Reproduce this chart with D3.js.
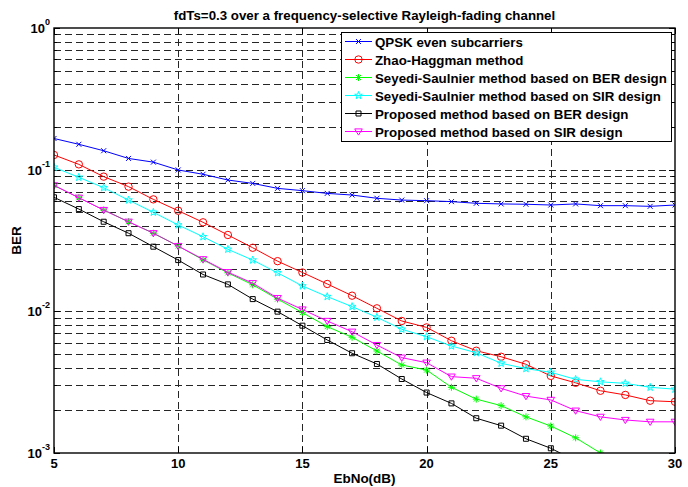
<!DOCTYPE html>
<html>
<head>
<meta charset="utf-8">
<script src="https://cdn.jsdelivr.net/npm/d3@7"></script>
<style>
  body { margin: 0; background: #fff; }
  text { font-family: "Liberation Sans", Arial, sans-serif; font-weight: bold; fill: #000; }
</style>
</head>
<body>
<div id="chart"></div>
<script>
// x values (dB)
const ebno = [5, 6, 7, 8, 9, 10, 11, 12, 13, 14, 15, 16, 17, 18, 19, 20, 21, 22, 23, 24, 25, 26, 27, 28, 29, 30];

// BER values
const qpskEven = [0.166, 0.151, 0.136, 0.120, 0.113, 0.0995, 0.0928, 0.0845, 0.080, 0.0738, 0.0711, 0.068, 0.0662,
    0.0628, 0.061, 0.0604, 0.0595, 0.0579, 0.0573, 0.057, 0.0563, 0.0573, 0.0557, 0.0557, 0.0551, 0.0563];
const zhaoHaggman = [0.127, 0.109, 0.0893, 0.0759, 0.0617, 0.0513, 0.0425, 0.0346, 0.0281, 0.0226, 0.0188, 0.0156, 0.0129,
    0.0105, 0.00855, 0.0077, 0.0062, 0.00527, 0.00478, 0.00423, 0.0035, 0.00313, 0.00275, 0.00257, 0.00234, 0.0023];
const seyediBer = [0.0775, 0.0634, 0.0519, 0.0429, 0.0356, 0.0289, 0.0231, 0.0187, 0.0154, 0.0122, 0.0098, 0.0078, 0.00656,
    0.00525, 0.00418, 0.00385, 0.00291, 0.0024, 0.00216, 0.0018, 0.00155, 0.00128, 0.001];
const seyediSir = [0.104, 0.0883, 0.0746, 0.061, 0.050, 0.0407, 0.0336, 0.0274, 0.0230, 0.0187, 0.0151, 0.0127, 0.0108,
    0.00908, 0.00747, 0.00662, 0.00569, 0.0051, 0.0043, 0.00394, 0.00371, 0.00331, 0.00318, 0.0031, 0.00291, 0.00282];
const proposedBer = [0.0638, 0.0527, 0.0429, 0.0356, 0.0286, 0.0230, 0.0182, 0.0155, 0.0122, 0.00995, 0.00792, 0.00628,
    0.00506, 0.00425, 0.00333, 0.00267, 0.00224, 0.00176, 0.00156, 0.00126, 0.00108, 0.00088];
const proposedSir = [0.0775, 0.0634, 0.0519, 0.0429, 0.0356, 0.0289, 0.0233, 0.0189, 0.0158, 0.0124, 0.0103, 0.00855,
    0.00718, 0.00578, 0.00471, 0.00434, 0.00346, 0.00337, 0.00286, 0.00252, 0.00237, 0.00199, 0.0018, 0.00171, 0.00166, 0.00166];

const seriesNames = ["QPSK even subcarriers", "Zhao-Haggman method", "Seyedi-Saulnier method based on BER design",
    "Seyedi-Saulnier method based on SIR design", "Proposed method based on BER design", "Proposed method based on SIR design"];
const seriesColors = ["#0000ff", "#ff0000", "#00ff00", "#00ffff", "#000000", "#ff00ff"];
const seriesMarkers = ["x", "circle", "asterisk", "star", "square", "triangle"];
const seriesValues = [qpskEven, zhaoHaggman, seyediBer, seyediSir, proposedBer, proposedSir];

const xTicks = [5, 10, 15, 20, 25, 30];
const yDecades = [-3, -2, -1, 0];

const titleText = "fdTs=0.3 over a frequency-selective Rayleigh-fading channel";
const xLabel = "EbNo(dB)";
const yLabel = "BER";

var W = 688, H = 487;
var margin = {top: 28, right: 13, bottom: 34, left: 54},
    width = W - margin.left - margin.right,
    height = H - margin.top - margin.bottom;

var svg = d3.select("#chart").append("svg")
    .attr("width", W)
    .attr("height", H);

var g = svg.append("g")
    .attr("transform", "translate(" + margin.left + "," + margin.top + ")");

var xScale = d3.scaleLinear().domain([5, 30]).range([0, width]);
var yScale = d3.scaleLog().domain([1e-3, 1]).range([height, 0]);

// grid values: every 1..9 within each decade
var minorVals = [];
yDecades.slice(0, -1).forEach(e => {
    for (var k = 1; k <= 9; k++) minorVals.push(k * Math.pow(10, e));
});
minorVals.push(1);

// horizontal dashed grid
g.append("g")
    .selectAll("line")
    .data(minorVals.filter(v => v > 1e-3 && v < 1))
    .join("line")
    .attr("x1", 0).attr("x2", width)
    .attr("y1", d => Math.round(yScale(d)) + 0.5)
    .attr("y2", d => Math.round(yScale(d)) + 0.5)
    .attr("stroke", "#262626")
    .attr("stroke-width", 1)
    .attr("stroke-dasharray", "7,4");

// vertical dashed grid
g.append("g")
    .selectAll("line")
    .data(xTicks.slice(1, -1))
    .join("line")
    .attr("x1", d => Math.round(xScale(d)) + 0.5)
    .attr("x2", d => Math.round(xScale(d)) + 0.5)
    .attr("y1", 0).attr("y2", height)
    .attr("stroke", "#262626")
    .attr("stroke-width", 1)
    .attr("stroke-dasharray", "7,4");

// inward ticks
var ticks = g.append("g").attr("stroke", "#000").attr("stroke-width", 1);
minorVals.forEach(v => {
    var y = Math.round(yScale(v)) + 0.5;
    var len = (Math.log10(v) % 1 === 0) ? 6 : 3;
    ticks.append("line").attr("x1", 0).attr("x2", len).attr("y1", y).attr("y2", y);
    ticks.append("line").attr("x1", width).attr("x2", width - len).attr("y1", y).attr("y2", y);
});
xTicks.forEach(v => {
    var x = Math.round(xScale(v)) + 0.5;
    ticks.append("line").attr("x1", x).attr("x2", x).attr("y1", height).attr("y2", height - 6);
    ticks.append("line").attr("x1", x).attr("x2", x).attr("y1", 0).attr("y2", 6);
});

// tick labels
g.append("g")
    .selectAll("text")
    .data(xTicks)
    .join("text")
    .attr("x", d => xScale(d))
    .attr("y", height + 15)
    .attr("text-anchor", "middle")
    .style("font-size", "13px")
    .text(d => d);

var yl = g.append("g")
    .selectAll("text")
    .data(yDecades)
    .join("text")
    .attr("x", -4)
    .attr("y", d => yScale(Math.pow(10, d)) + 5)
    .attr("text-anchor", "end");
yl.append("tspan").style("font-size", "13px").text("10");
yl.append("tspan").style("font-size", "9px").attr("dy", -8).text(d => d);

// curves
g.append("clipPath").attr("id", "plotclip")
    .append("rect").attr("x", 0).attr("y", 0).attr("width", width).attr("height", height);

const line = d3.line()
    .x((d, i) => xScale(ebno[i]))
    .y(d => yScale(d));

function markerPath(type) {
    switch (type) {
        case "x": return "M-2.5,-2.5L2.5,2.5M-2.5,2.5L2.5,-2.5";
        case "asterisk": return "M-3.5,0H3.5M0,-3.5V3.5M-2.5,-2.5L2.5,2.5M-2.5,2.5L2.5,-2.5";
        case "square": return "M-2.5,-2.5H2.5V2.5H-2.5Z";
        case "triangle": return "M-3.8,-2.6H3.8L0,3.6Z";
        case "star": {
            var pts = [];
            for (var i = 0; i < 10; i++) {
                var r = i % 2 ? 1.6 : 4;
                var a = -Math.PI / 2 + i * Math.PI / 5;
                pts.push([r * Math.cos(a), r * Math.sin(a)]);
            }
            return "M" + pts.map(p => p[0].toFixed(2) + "," + p[1].toFixed(2)).join("L") + "Z";
        }
    }
    return null;
}

function drawMarker(sel, type, color) {
    if (type === "circle") {
        sel.append("circle").attr("r", 3.7)
            .attr("fill", "none").attr("stroke", color).attr("stroke-width", 1);
    } else {
        sel.append("path").attr("d", markerPath(type))
            .attr("fill", "none").attr("stroke", color).attr("stroke-width", 1);
    }
}

var curves = g.append("g").attr("clip-path", "url(#plotclip)");
seriesValues.forEach((vals, s) => {
    curves.append("path")
        .attr("d", line(vals))
        .attr("fill", "none")
        .attr("stroke", seriesColors[s])
        .attr("stroke-width", 1);
    vals.forEach((v, i) => {
        var mk = curves.append("g")
            .attr("transform", "translate(" + xScale(ebno[i]) + "," + yScale(v) + ")");
        drawMarker(mk, seriesMarkers[s], seriesColors[s]);
    });
});

// axes box
g.append("rect")
    .attr("x", 0).attr("y", 0)
    .attr("width", width).attr("height", height)
    .attr("fill", "none")
    .attr("stroke", "#000")
    .attr("stroke-width", 1.4);

// legend
var legend = svg.append("g").attr("transform", "translate(341,32)");
legend.append("rect")
    .attr("x", 0.5).attr("y", 0.5)
    .attr("width", 330).attr("height", 109)
    .attr("fill", "#fff")
    .attr("stroke", "#000")
    .attr("stroke-width", 1);
seriesNames.forEach((name, s) => {
    var row = legend.append("g").attr("transform", "translate(0," + (9.5 + s * 18) + ")");
    row.append("line").attr("x1", 4).attr("x2", 31).attr("y1", 0).attr("y2", 0)
        .attr("stroke", seriesColors[s]).attr("stroke-width", 1);
    var mk = row.append("g").attr("transform", "translate(17.5,0)");
    drawMarker(mk, seriesMarkers[s], seriesColors[s]);
    row.append("text")
        .attr("x", 34).attr("y", 5)
        .style("font-size", "13.3px")
        .text(name);
});

// title and labels
svg.append("text")
    .attr("x", margin.left + width / 2)
    .attr("y", 20)
    .attr("text-anchor", "middle")
    .style("font-size", "13.3px")
    .text(titleText);

svg.append("text")
    .attr("x", margin.left + width / 2)
    .attr("y", 483)
    .attr("text-anchor", "middle")
    .style("font-size", "13.5px")
    .text(xLabel);

svg.append("text")
    .attr("transform", "translate(21," + (margin.top + height / 2) + ") rotate(-90)")
    .attr("text-anchor", "middle")
    .style("font-size", "13.5px")
    .text(yLabel);
</script>
</body>
</html>
